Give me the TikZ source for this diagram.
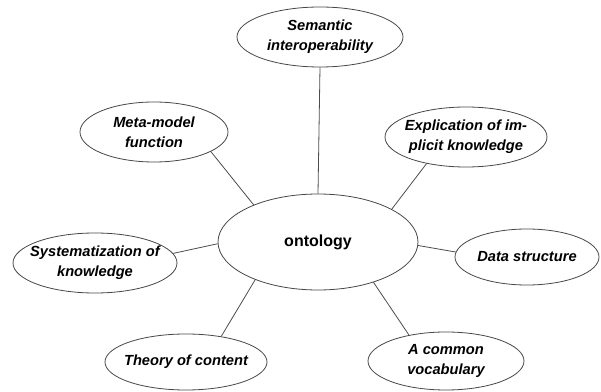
\documentclass[tikz,border=0pt]{standalone}
\usepackage{fontspec}
\setmainfont{Liberation Sans}
\usetikzlibrary{shapes.geometric}
\tikzset{
  bub/.style={ellipse, draw=black!72, line width=0.6pt, inner sep=0pt, fill=white},
  txt/.style={font=\fontsize{11}{15}\selectfont\bfseries\itshape, align=center, text=black},
  link/.style={draw=black!70, line width=0.6pt},
}
\begin{document}
\begin{tikzpicture}[x=0.75pt,y=-0.75pt]
\useasboundingbox (0,0) rectangle (601,392);
\node[bub, minimum width=150pt, minimum height=72pt] (onto) at (318,242) {};
\node[font=\fontsize{12}{14}\selectfont\bfseries] (ontot) at (onto) {ontology};
\node[bub, minimum width=124.5pt, minimum height=45pt, label={[txt]center:Semantic\\interoperability}] (sem) at (320,37) {};
\node[bub, minimum width=111pt, minimum height=45pt, label={[txt]center:Meta-model\\function}] (meta) at (154,132) {};
\node[bub, minimum width=121.5pt, minimum height=45pt, label={[txt]center:Explication of im-\\plicit knowledge}] (expl) at (466,137) {};
\node[bub, minimum width=123pt, minimum height=45pt, label={[txt]center:Systematization of\\knowledge}] (sys) at (95,263) {};
\node[bub, minimum width=108pt, minimum height=42pt, label={[txt]center:Data structure}] (data) at (527,257) {};
\node[bub, minimum width=121.5pt, minimum height=42pt, label={[txt]center:Theory of content}] (theo) at (186,362) {};
\node[bub, minimum width=117pt, minimum height=43.5pt, label={[txt]center:A common\\vocabulary}] (voc) at (446,361) {};
\draw[link] (onto.90) -- (sem.270);
\draw[link] (onto.150.8) -- (meta.341.3);
\draw[link] (onto.24.7) -- (expl.214);
\draw[link] (onto.181.7) -- (sys.7.6);
\draw[link] (onto.358.3) -- (data.176);
\draw[link] (onto.211.6) -- (theo.36);
\draw[link] (onto.324.9) -- (voc.145.3);
\end{tikzpicture}
\end{document}
